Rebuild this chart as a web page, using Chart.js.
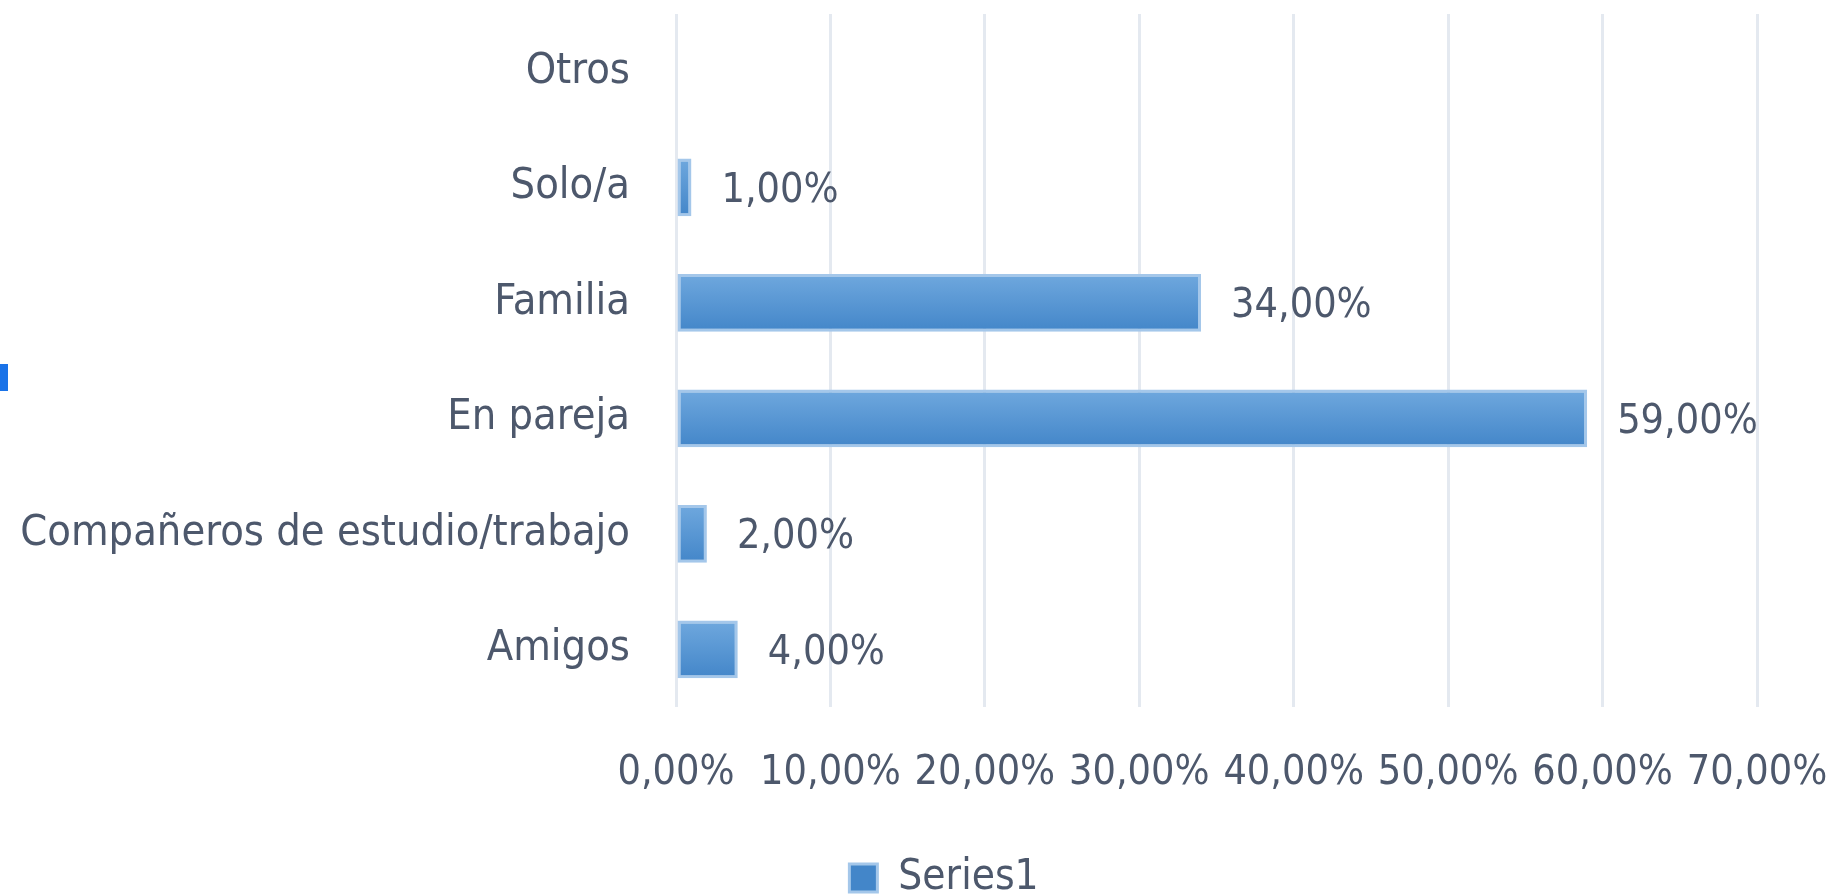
<!DOCTYPE html>
<html>
<head>
<meta charset="utf-8">
<script src="https://cdn.jsdelivr.net/npm/chart.js@4/dist/chart.umd.min.js"></script>
<style>
  html, body { margin: 0; padding: 0; background: #ffffff; overflow: hidden; }
  #wrap { position: relative; width: 1840px; height: 894px; }
  #c { filter: blur(0.6px); }
  #mark { position: absolute; left: 0; top: 364px; width: 8px; height: 27px; background: #1a73e8; }
</style>
</head>
<body>
<div id="wrap">
  <canvas id="c" width="1840" height="894"></canvas>
  <div id="mark"></div>
</div>
<script>
const categories = ['Otros', 'Solo/a', 'Familia', 'En pareja', 'Compañeros de estudio/trabajo', 'Amigos'];
const seriesValues = [null, 1, 34, 59, 2, 4];
const seriesName = 'Series1';
const axisMin = 0;
const axisMax = 70;
const axisStep = 10;

const FONT_FAMILY = "'DejaVu Sans Condensed', 'Liberation Sans Narrow', 'Liberation Sans', sans-serif";
const TEXT_COLOR = '#4d586c';
const fmt = v => v.toFixed(2).replace('.', ',') + '%';

const valueLabels = {
  id: 'valueLabels',
  afterDatasetsDraw(chart) {
    const ctx = chart.ctx;
    const meta = chart.getDatasetMeta(0);
    ctx.save();
    ctx.font = '41px ' + FONT_FAMILY;
    ctx.fillStyle = TEXT_COLOR;
    ctx.textBaseline = 'middle';
    ctx.textAlign = 'left';
    meta.data.forEach((el, i) => {
      const v = seriesValues[i];
      if (v === null || v === undefined) return;
      ctx.fillText(fmt(v), el.x + 30, el.y + 4);
    });
    ctx.restore();
  }
};

// shift the bottom legend so it sits centred under the whole picture like the original
const legendShift = {
  id: 'legendShift',
  afterLayout(chart) {
    const lg = chart.legend;
    if (!lg) return;
    const target = 944;
    const d = target - (lg.left + lg.right) / 2;
    lg.left += d;
    lg.right += d;
  }
};

const BAR_FRACTION = 0.5;

new Chart(document.getElementById('c'), {
  type: 'bar',
  data: {
    labels: categories,
    datasets: [{
      label: seriesName,
      data: seriesValues,
      backgroundColor: (c) => {
        const chart = c.chart;
        const ys = chart.scales && chart.scales.y;
        if (c.type !== 'data' || !ys || !ys.height) return '#5b9bd5';
        const cy = ys.getPixelForValue(c.dataIndex);
        const half = ys.height / categories.length * BAR_FRACTION / 2;
        const g = chart.ctx.createLinearGradient(0, cy - half, 0, cy + half);
        g.addColorStop(0, '#6fa8de');
        g.addColorStop(1, '#4386c9');
        return g;
      },
      borderColor: '#a4c7ea',
      borderWidth: 3,
      borderSkipped: false,
      categoryPercentage: 1,
      barPercentage: BAR_FRACTION
    }]
  },
  options: {
    indexAxis: 'y',
    responsive: false,
    animation: false,
    devicePixelRatio: 1,
    layout: { padding: { left: 0, right: 83, top: 14, bottom: -15 } },
    plugins: {
      legend: {
        display: true,
        position: 'bottom',
        labels: {
          font: { size: 42, family: FONT_FAMILY },
          color: TEXT_COLOR,
          boxWidth: 28,
          boxHeight: 28,
          padding: 10
        }
      },
      tooltip: { enabled: false }
    },
    scales: {
      x: {
        min: axisMin,
        max: axisMax,
        ticks: {
          stepSize: axisStep,
          callback: v => fmt(v),
          font: { size: 41, family: FONT_FAMILY },
          color: TEXT_COLOR,
          padding: 42,
          maxRotation: 0,
          autoSkip: false
        },
        grid: { color: '#e4e9f0', lineWidth: 3, drawTicks: false },
        border: { display: false },
        afterFit: s => { s.height = 140; s.paddingLeft = 0; s.paddingRight = 0; }
      },
      y: {
        ticks: {
          font: { size: 43, family: FONT_FAMILY },
          color: TEXT_COLOR,
          padding: 46,
          autoSkip: false
        },
        grid: { display: false, drawTicks: false },
        border: { display: false },
        afterFit: s => { s.width = 676; s.paddingTop = 0; s.paddingBottom = 0; }
      }
    }
  },
  plugins: [valueLabels, legendShift]
});
</script>
</body>
</html>
